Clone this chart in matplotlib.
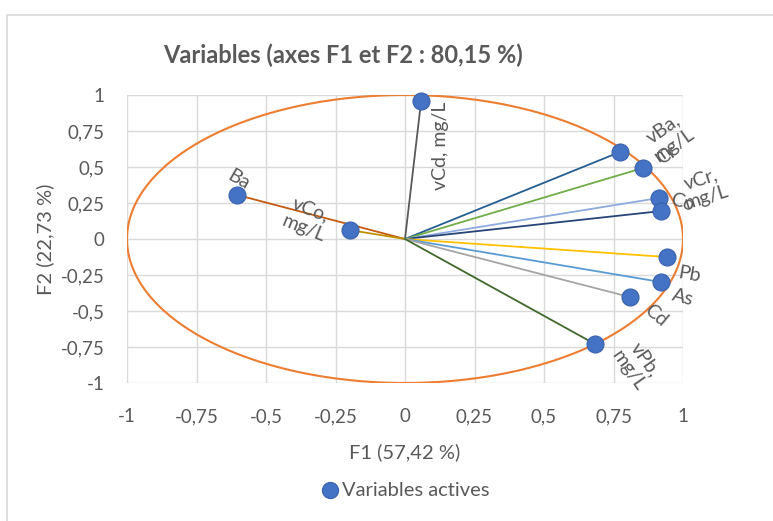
import numpy as np
import matplotlib.pyplot as plt
from matplotlib.patches import Rectangle

plt.rcParams['font.family'] = ['Lato', 'DejaVu Sans']

# correlation coordinates of the variables on F1 / F2
names = ["Ba", "vCo, mg/L", "vCd, mg/L", "vBa, mg/L", "Cr", "vCr, mg/L",
         "Co", "Pb", "As", "Cd", "vPb, mg/L"]
f1 = [-0.604, -0.198, 0.058, 0.773, 0.856, 0.914, 0.921, 0.942, 0.921, 0.809, 0.683]
f2 = [0.306, 0.062, 0.958, 0.604, 0.493, 0.285, 0.194, -0.125, -0.299, -0.403, -0.729]
line_colors = ["#C55A11", "#BF9000", "#595959", "#255E91", "#70AD47", "#8FAADC",
               "#264478", "#FFC000", "#5B9BD5", "#A5A5A5", "#43682B"]

# label placement (offset in points, rotation)
lab_text = ["Ba", "vCo,\nmg/L", "vCd, mg/L", "vBa,\nmg/L", "Cr", "vCr,\nmg/L",
            "Co", "Pb", "As", "Cd", "vPb,\nmg/L"]
lab_off = [(1, 11), (-31, 8), (14, -32), (35, 11), (17, 9), (32, 7),
           (15, 6), (16, -13), (16, -11), (19, -13), (30, -15)]
lab_rot = [-30, -22, 90, 35, 32, 17, -18, -10, -15, -40, -55]

tc = "#595959"

fig = plt.figure(figsize=(7.73, 5.21), dpi=100)
fig.patches.append(Rectangle((7/773, -0.1), 1.0, (521-15)/521 + 0.1, transform=fig.transFigure,
                             fill=False, edgecolor="#D9D9D9", linewidth=1.2))
ax = fig.add_axes([127/773, 138/521, 556/773, 288/521])

ticks = np.arange(-1, 1.01, 0.25)
ax.set_xticks(ticks)
ax.set_yticks(ticks)
fmt = lambda v: ("%g" % v).replace(".", ",")
ax.set_xticklabels([fmt(t) for t in ticks])
ax.set_yticklabels([fmt(t) for t in ticks])
ax.set_xlim(-1, 1)
ax.set_ylim(-1, 1)
ax.grid(True, color="#D9D9D9", linewidth=1)
ax.set_axisbelow(True)
for s in ax.spines.values():
    s.set_visible(False)
ax.tick_params(length=0, labelsize=13.5, colors=tc)
ax.tick_params(axis="x", pad=18)
ax.tick_params(axis="y", pad=16)

th = np.linspace(0, 2*np.pi, 400)
ax.plot(np.cos(th), np.sin(th), color="#ED7D31", lw=1.5, zorder=2)

for x, y, c in zip(f1, f2, line_colors):
    ax.plot([0, x], [0, y], color=c, lw=1.3, zorder=3)
ax.scatter(f1, f2, s=150, color="#4472C4", edgecolor="#3A62AC", linewidth=0.8, zorder=4,
           label="Variables actives", clip_on=False)

for x, y, t, o, r in zip(f1, f2, lab_text, lab_off, lab_rot):
    ax.annotate(t, (x, y), xytext=o, textcoords="offset points", rotation=r,
                ha="center", va="center", fontsize=14, color=tc,
                rotation_mode="anchor", linespacing=1.2, zorder=5)

ax.set_xlabel("F1 (57,42 %)", fontsize=14.5, color=tc, labelpad=13)
ax.set_ylabel("F2 (22,73 %)", fontsize=14.5, color=tc, labelpad=5)
fig.text(343/773, 1 - 55/521, "Variables (axes F1 et F2 : 80,15 %)", ha="center",
         va="center", fontsize=17, fontweight="bold", color=tc)
ax.legend(loc="center", bbox_to_anchor=(0.5, -0.372), frameon=False, fontsize=14.5,
          labelcolor=tc, handletextpad=0.15, handlelength=0.9, markerscale=0.95)

plt.savefig("out.png", dpi=100)
